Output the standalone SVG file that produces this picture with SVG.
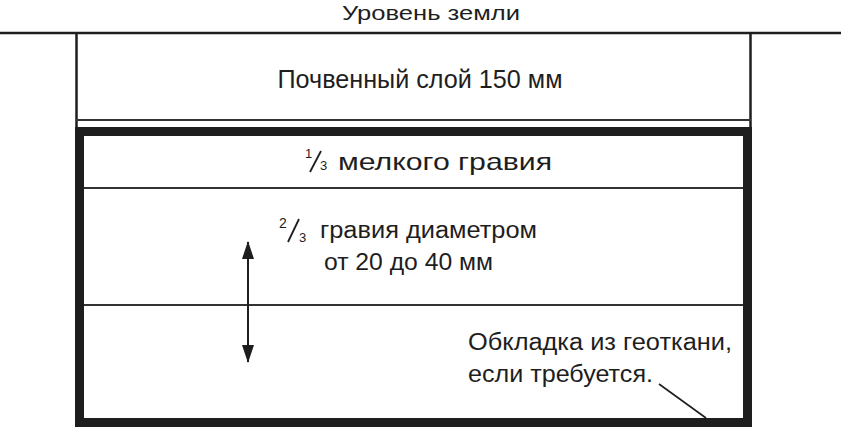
<svg xmlns="http://www.w3.org/2000/svg" width="841" height="429" viewBox="0 0 841 429">
<style>
.t{font-family:"Liberation Sans",Arial,sans-serif;fill:#1e1e1e}
.thin{stroke:#333;stroke-width:2;fill:none}
.wall{stroke:#1e1e1e;stroke-width:2.5;fill:none}
</style>
<defs>
<marker id="ah" viewBox="0 0 18 12" refX="17" refY="6" markerWidth="18" markerHeight="12" markerUnits="userSpaceOnUse" orient="auto-start-reverse">
<path d="M0,0 L18,6 L0,12 Z" fill="#1e1e1e"/>
</marker>
</defs>
<rect width="841" height="429" fill="#fff"/>
<g id="ground">
<line x1="0" y1="33" x2="841" y2="33" class="wall"/>
<text class="t" x="431" y="20" font-size="21" text-anchor="middle" textLength="178" lengthAdjust="spacingAndGlyphs">Уровень земли</text>
</g>
<g id="soil">
<line x1="76.5" y1="33" x2="76.5" y2="128" class="wall"/>
<line x1="750.5" y1="33" x2="750.5" y2="128" class="wall"/>
<line x1="76" y1="120" x2="751" y2="120" class="thin"/>
<text class="t" x="420" y="88" font-size="25" text-anchor="middle" textLength="285" lengthAdjust="spacingAndGlyphs">Почвенный слой 150 мм</text>
</g>
<g id="trench">
<rect x="79.5" y="131.5" width="668" height="291" fill="none" stroke="#1e1e1e" stroke-width="9"/>
</g>
<g id="fine-gravel">
<line x1="84" y1="188" x2="743" y2="188" class="thin"/>
<text class="t" x="305" y="158" font-size="13">1</text>
<line x1="321" y1="151" x2="310" y2="172" stroke="#1e1e1e" stroke-width="1.8"/>
<text class="t" x="320" y="170" font-size="13">3</text>
<text class="t" x="338" y="170" font-size="24" textLength="214" lengthAdjust="spacingAndGlyphs">мелкого гравия</text>
</g>
<g id="coarse-gravel">
<line x1="84" y1="305" x2="743" y2="305" class="thin"/>
<text class="t" x="279" y="228" font-size="14">2</text>
<line x1="299" y1="219" x2="288" y2="242" stroke="#1e1e1e" stroke-width="1.8"/>
<text class="t" x="299" y="242" font-size="13">3</text>
<text class="t" x="320" y="238" font-size="23" textLength="217" lengthAdjust="spacingAndGlyphs">гравия диаметром</text>
<text class="t" x="324" y="270" font-size="23" textLength="169" lengthAdjust="spacingAndGlyphs">от 20 до 40 мм</text>
</g>
<g id="geotextile">
<text class="t" x="468" y="350" font-size="23" textLength="264" lengthAdjust="spacingAndGlyphs">Обкладка из геоткани,</text>
<text class="t" x="468" y="382" font-size="23" textLength="185" lengthAdjust="spacingAndGlyphs">если требуется.</text>
</g>
<g id="connectors">
<line x1="248" y1="305" x2="248" y2="242" stroke="#1e1e1e" stroke-width="2" marker-end="url(#ah)"/>
<line x1="248" y1="305" x2="248" y2="362" stroke="#1e1e1e" stroke-width="2" marker-end="url(#ah)"/>
<line x1="659" y1="384" x2="706" y2="418" stroke="#1e1e1e" stroke-width="1.6"/>
</g>
</svg>
